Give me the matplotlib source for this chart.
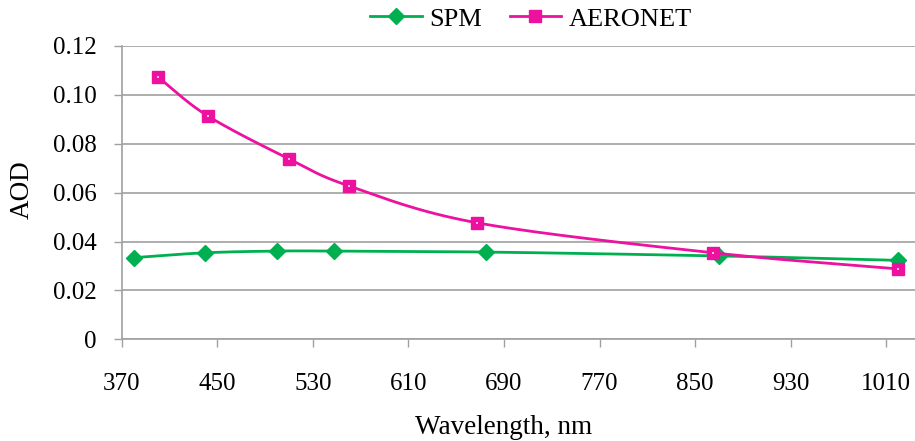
import numpy as np
import matplotlib
matplotlib.use("Agg")
import matplotlib.pyplot as plt

# Data
spm_wl = [380, 440, 500, 548, 675, 870, 1020]
spm_aod = [0.0334, 0.0354, 0.0361, 0.0361, 0.0357, 0.0341, 0.0323]
aer_wl = [400, 442, 510, 560, 667, 865, 1020]
aer_aod = [0.1074, 0.0914, 0.0738, 0.0628, 0.0477, 0.0354, 0.0288]
x_ticks = [370, 450, 530, 610, 690, 770, 850, 930, 1010]
y_ticks = [0, 0.02, 0.04, 0.06, 0.08, 0.10, 0.12]
y_ticklabels = ["0", "0.02", "0.04", "0.06", "0.08", "0.10", "0.12"]

GREEN = "#00B050"
PINK = "#EC119E"
GRID = "#A0A0A0"

plt.rcParams['font.family'] = ['Liberation Serif', 'DejaVu Serif']


def smooth(xs, ys, n=30):
    """Catmull-Rom style smoothing similar to a spreadsheet's smoothed line."""
    x = np.asarray(xs, float)
    y = np.asarray(ys, float)
    px = np.concatenate([[2 * x[0] - x[1]], x, [2 * x[-1] - x[-2]]])
    py = np.concatenate([[2 * y[0] - y[1]], y, [2 * y[-1] - y[-2]]])
    ox, oy = [], []
    t = np.linspace(0, 1, n)
    for i in range(1, len(px) - 2):
        p0, p1, p2, p3 = (np.array([px[j], py[j]]) for j in range(i - 1, i + 3))
        c1 = p1 + (p2 - p0) / 6.0
        c2 = p2 - (p3 - p1) / 6.0
        for tt in t:
            b = ((1 - tt) ** 3) * p1 + 3 * ((1 - tt) ** 2) * tt * c1 + 3 * (1 - tt) * tt ** 2 * c2 + tt ** 3 * p2
            ox.append(b[0]); oy.append(b[1])
    return np.array(ox), np.array(oy)


fig = plt.figure(figsize=(9.15, 4.41), dpi=100)
ax = fig.add_axes([0.133, 0.2306, 0.867, 0.6651])

sx, sy = smooth(spm_wl, spm_aod)
ax.plot(sx, sy, color=GREEN, lw=2.0, zorder=3)
ax.plot(spm_wl, spm_aod, linestyle='none', marker='D', ms=8, color=GREEN, zorder=4)

axx, ay = smooth(aer_wl, aer_aod)
ax.plot(axx, ay, color=PINK, lw=2.0, zorder=5)
ax.plot(aer_wl, aer_aod, linestyle='none', marker='s', ms=8.5, color=PINK,
        markeredgecolor=PINK, zorder=6)
ax.plot(aer_wl, aer_aod, linestyle='none', marker='s', ms=1.5, color='#F8B4DC',
        markeredgewidth=0, zorder=7)

h1, = ax.plot([], [], color=GREEN, lw=2.0, marker='D', ms=8, label='SPM')
h2, = ax.plot([], [], color=PINK, lw=2.0, marker='s', ms=8.5, label='AERONET')

ax.set_xlim(370, 1034)
ax.set_ylim(0, 0.12)
ax.set_xticks(x_ticks)
ax.set_yticks(y_ticks)
ax.set_yticklabels(y_ticklabels)
ax.tick_params(axis='both', labelsize=18, color=GRID, length=6, width=1)
ax.tick_params(axis='x', pad=18)
ax.tick_params(axis='y', pad=12)

ax.grid(axis='y', color=GRID, lw=1.2)
ax.set_axisbelow(True)
for s in ['top', 'right']:
    ax.spines[s].set_visible(False)
for s in ['left', 'bottom']:
    ax.spines[s].set_color(GRID)
    ax.spines[s].set_linewidth(1.2)

fig.text(415 / 915 + (178 / 2) / 915, 1 - 428 / 441, 'Wavelength, nm', fontsize=19.5,
         ha='center', va='center')
fig.text(22 / 915, 1 - 190 / 441, 'AOD', fontsize=19.5, rotation=90,
         ha='center', va='center')

fig.legend(handles=[h1, h2], loc='center', bbox_to_anchor=(531 / 915, 1 - 19 / 441),
           bbox_transform=fig.transFigure, ncol=2, frameon=False,
           fontsize=19, handlelength=1.95, columnspacing=1.05, handletextpad=0.28,
           borderaxespad=0.0, borderpad=0.0)

fig.savefig('out.png', dpi=100)
